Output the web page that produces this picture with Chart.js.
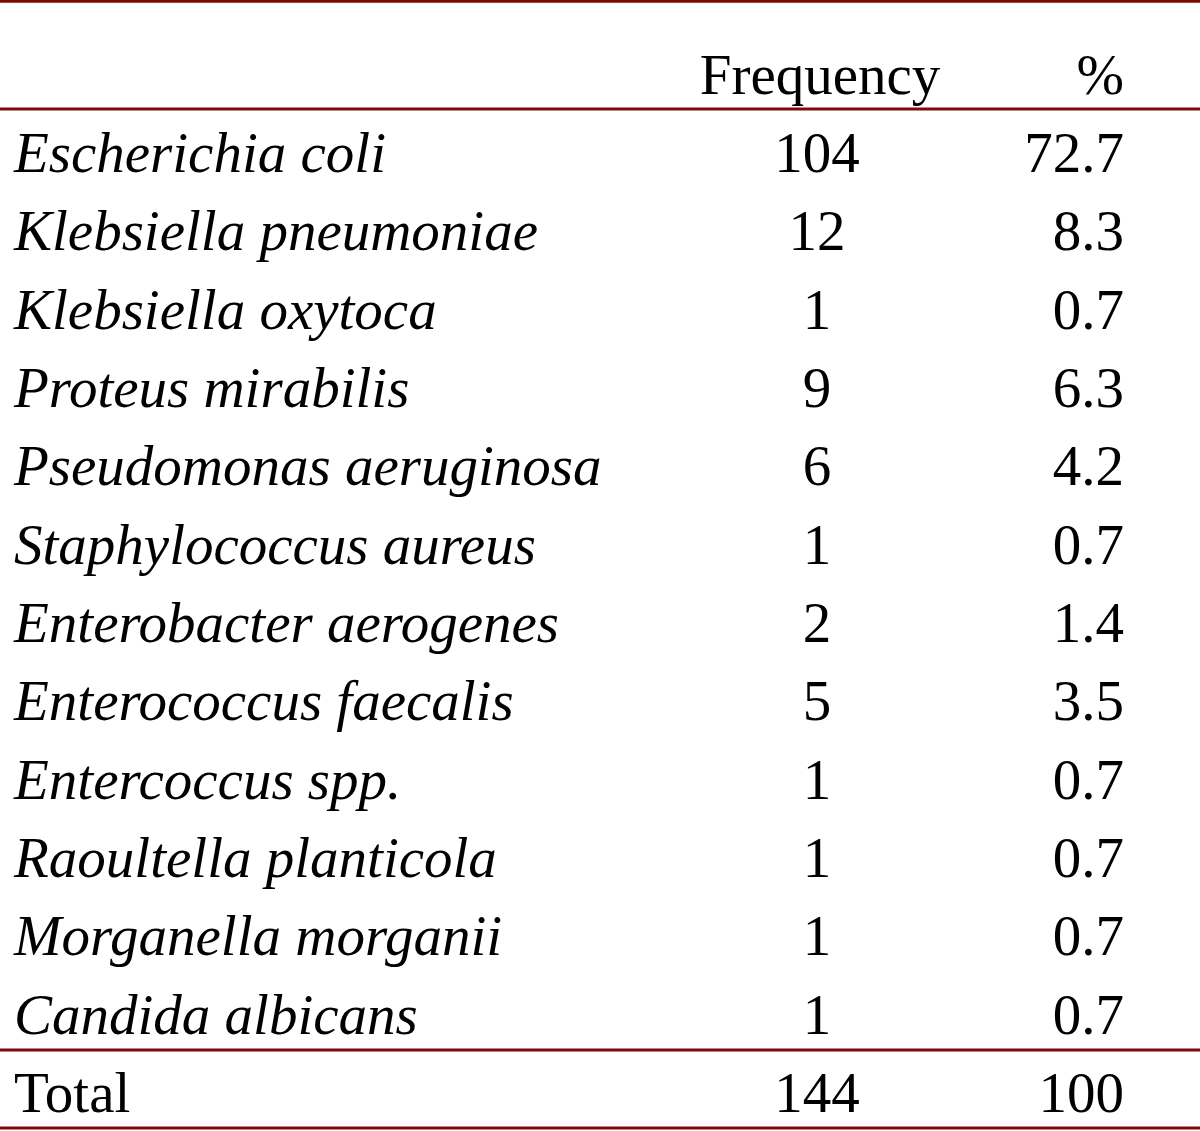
<!DOCTYPE html>
<html>
<head>
<meta charset="utf-8">
<script src="https://cdn.jsdelivr.net/npm/chart.js@4.4.1/dist/chart.umd.min.js"></script>
<style>
  html, body { margin: 0; padding: 0; background: #fff; }
  canvas { display: block; }
</style>
</head>
<body>
<canvas id="tabela" width="1200" height="1131"></canvas>
<script>
// dados da tabela
const organismos = ['Escherichia coli', 'Klebsiella pneumoniae', 'Klebsiella oxytoca', 'Proteus mirabilis',
  'Pseudomonas aeruginosa', 'Staphylococcus aureus', 'Enterobacter aerogenes', 'Enterococcus faecalis',
  'Entercoccus spp.', 'Raoultella planticola', 'Morganella morganii', 'Candida albicans']
const frequencia = [104, 12, 1, 9, 6, 1, 2, 5, 1, 1, 1, 1]
const percentual = [72.7, 8.3, 0.7, 6.3, 4.2, 0.7, 1.4, 3.5, 0.7, 0.7, 0.7, 0.7]
const cabecalho = ['', 'Frequency', '%']
const totalLabel = 'Total'
const totalFreq = 144
const totalPct = 100

const vermelho = '#7d0a0a'
const fonte = '"Liberation Serif", "Times New Roman", serif'
const tamanho = 57

// posicoes das colunas no eixo x (0..1200) e linhas no eixo y (indice da linha)
const colNome = 14, colFreq = 817, colPct = 1124
const regras = [-0.935, 0.44, 12.45, 13.445]

const linhasDatasets = regras.map(v => ({
  type: 'line',
  data: [{x: 0, y: v}, {x: 1200, y: v}],
  borderColor: vermelho,
  borderWidth: 3,
  pointRadius: 0,
  clip: false
}))

const textoTabela = {
  id: 'textoTabela',
  afterDatasetsDraw(chart) {
    const c = chart.ctx
    const xs = chart.scales.x
    const ys = chart.scales.y
    const base = 19
    c.save()
    c.fillStyle = '#000'
    c.textBaseline = 'alphabetic'

    const escreve = (txt, col, linha, align, italico) => {
      c.font = (italico ? 'italic ' : '') + tamanho + 'px ' + fonte
      c.textAlign = align
      c.fillText(txt, xs.getPixelForValue(col), ys.getPixelForValue(linha) + base)
    }

    escreve(cabecalho[1], colFreq + 3, 0, 'center', false)
    escreve(cabecalho[2], colPct, 0, 'right', false)

    organismos.forEach((nome, i) => {
      escreve(nome, colNome, i + 1, 'left', true)
      escreve(String(frequencia[i]), colFreq, i + 1, 'center', false)
      escreve(percentual[i].toFixed(1), colPct, i + 1, 'right', false)
    })

    const t = organismos.length + 1
    escreve(totalLabel, colNome, t, 'left', false)
    escreve(String(totalFreq), colFreq, t, 'center', false)
    escreve(String(totalPct), colPct, t, 'right', false)
    c.restore()
  }
}

const grafico = new Chart(document.getElementById('tabela'), {
  type: 'scatter',
  data: { datasets: linhasDatasets },
  options: {
    responsive: false,
    animation: false,
    events: [],
    layout: { padding: 0 },
    plugins: { legend: { display: false }, tooltip: { enabled: false } },
    scales: {
      x: { type: 'linear', display: false, min: 0, max: 1200 },
      y: { type: 'linear', display: false, reverse: true, min: -0.952, max: 13.483 }
    }
  },
  plugins: [textoTabela]
})
</script>
</body>
</html>
